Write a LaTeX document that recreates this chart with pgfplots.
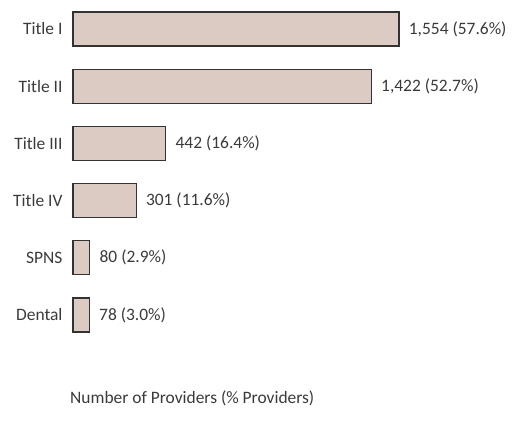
\documentclass[border=0pt]{standalone}
\usepackage{fontspec}
\setmainfont{Carlito}
\usepackage{pgfplots}
\usepackage{pgfplotstable}
\pgfplotsset{compat=1.18}
\usetikzlibrary{calc}
\definecolor{barfill}{HTML}{DCCBC2}
\definecolor{txt}{HTML}{3A3A3A}

\pgfplotstableread{
pos count label
0 1554 {1,554 (57.6\%)}
1 1422 {1,422 (52.7\%)}
2 442 {442 (16.4\%)}
3 301 {301 (11.6\%)}
4 80 {80 (2.9\%)}
5 78 {78 (3.0\%)}
}\providers

\begin{document}
\begin{tikzpicture}
\begin{axis}[
    name=ax,
    scale only axis,
    width=419.6bp, height=343.2bp,
    xbar, bar shift=0pt, bar width=34bp,
    xmin=0, xmax=2000,
    ymin=-0.5, ymax=5.5,
    y dir=reverse,
    clip=false,
    axis line style={draw=none},
    major tick length=0pt,
    xtick=\empty,
    ytick={0,...,5},
    yticklabels={Title I, Title II, Title III, Title IV, SPNS, Dental},
    yticklabel style={font=\fontsize{17.5}{20}\selectfont, text=txt, xshift=-7bp},
    point meta=explicit symbolic,
    nodes near coords={\pgfplotspointmeta},
    every node near coord/.append style={font=\fontsize{17.5}{20}\selectfont, text=txt, anchor=west, xshift=6bp},
    xlabel={Number of Providers (\% Providers)},
    xlabel style={at={(axis description cs:0,0)}, anchor=west, inner sep=0pt,
        xshift=-3bp, yshift=-54.6bp, font=\fontsize{17.5}{20}\selectfont, text=txt},
]
\addplot[fill=barfill, draw=black!80, line width=1.1bp]
    table[x=count, y=pos, meta=label]{\providers};
\end{axis}
\path[use as bounding box] ($(ax.south west)+(-73bp,-89.4bp)$) rectangle ($(ax.south west)+(441bp,343.6bp)$);
\end{tikzpicture}
\end{document}
